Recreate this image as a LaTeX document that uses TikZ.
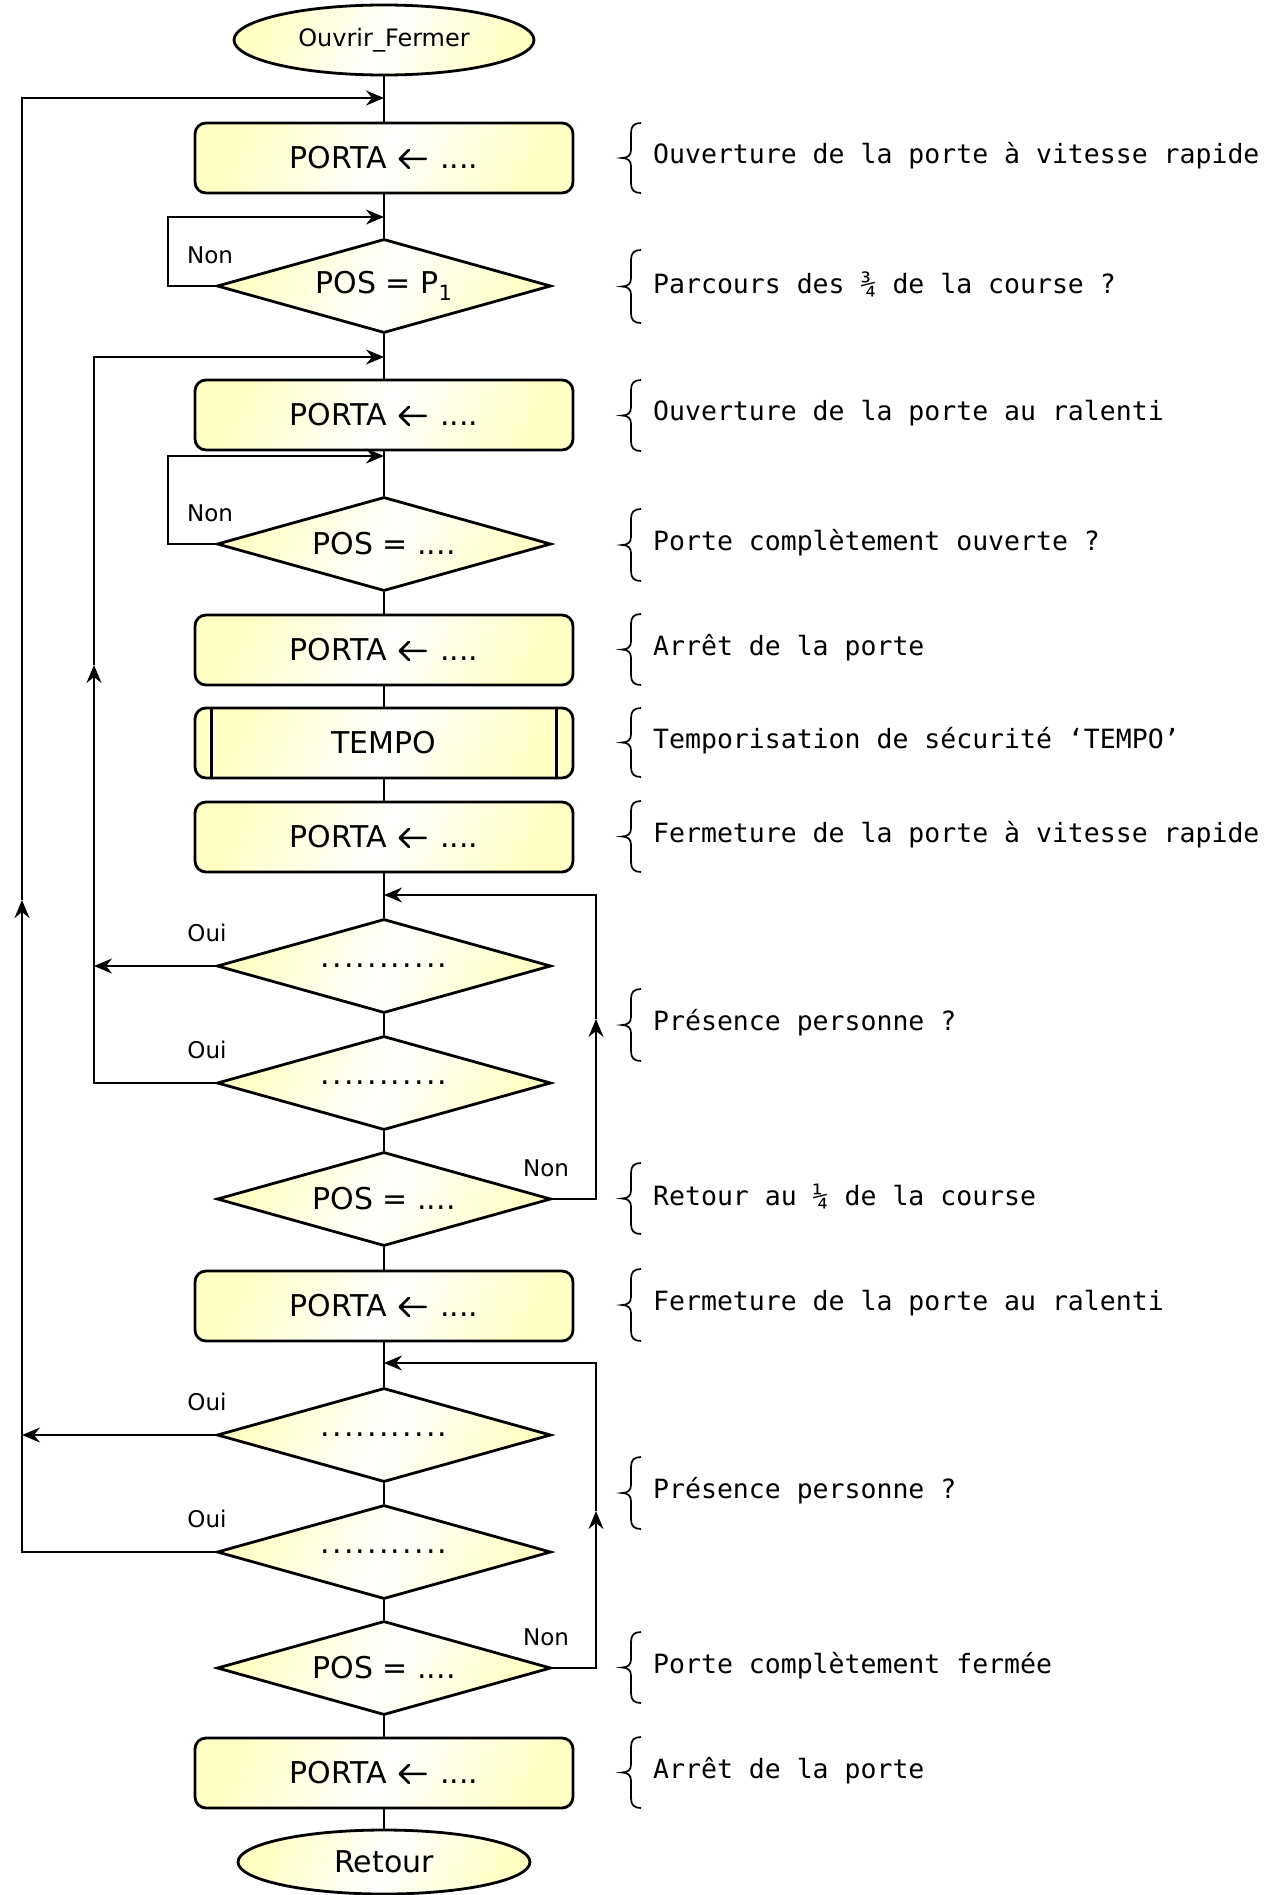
\documentclass[tikz,border=0pt]{standalone}
\usepackage{fontspec}
\setmainfont{DejaVu Sans}
\newfontfamily\monofont{DejaVu Sans Mono}
\usetikzlibrary{shapes.geometric,arrows.meta}
\definecolor{boxfill}{RGB}{255,255,196}
\newcommand\waitdots{.\kern2.2pt.\kern2.2pt.\kern2.2pt.\kern2.2pt.\kern2.2pt.\kern2.2pt.\kern2.2pt.\kern2.2pt.\kern2.2pt.\kern2.2pt.}
% open-chevron assignment arrow, built once and reused
\newsavebox\assignbox
\newcommand\assign{PORTA\hspace{12pt}\usebox\assignbox\hspace{13pt}....}

\begin{document}
\sbox\assignbox{\begin{pgfpicture}
  \pgfsetbaseline{0pt}
  \pgfsetlinewidth{2.6pt}\pgfsetroundcap\pgfsetroundjoin
  \pgfpathmoveto{\pgfpoint{27pt}{10pt}}\pgfpathlineto{\pgfpoint{1pt}{10pt}}
  \pgfpathmoveto{\pgfpoint{10pt}{19pt}}\pgfpathlineto{\pgfpoint{1pt}{10pt}}%
  \pgfpathlineto{\pgfpoint{10pt}{1pt}}
  \pgfusepath{stroke}
\end{pgfpicture}}%
\begin{tikzpicture}[x=1pt,y=-1pt,
  shadefill/.style={left color=boxfill,right color=boxfill,middle color=white,shading angle=65},
  bigtext/.style={font=\fontsize{30}{30}\selectfont},
  proc/.style={draw,line width=2.8pt,rounded corners=11pt,minimum width=378pt,
    minimum height=70pt,inner sep=0pt,shadefill,bigtext},
  dec/.style={diamond,aspect=3.55,draw,line width=2.8pt,minimum width=334pt,minimum height=94pt,
    inner sep=0pt,shadefill,bigtext},
  term/.style={ellipse,draw,line width=2.8pt,inner sep=0pt,shadefill},
  flow/.style={line width=1.9pt},
  arr/.style={flow,-{Stealth[length=18pt,width=15pt,inset=6pt]}},
  lbl/.style={font=\fontsize{23}{23}\selectfont,inner sep=0pt},
  note/.style={anchor=west,inner sep=0pt,font=\monofont\fontsize{26.5}{26.5}\selectfont},
  bracestroke/.style={line width=1.7pt}
]
\useasboundingbox (0,0) rectangle (1285,1895);

% ---- main column ----
\node[term,minimum width=300pt,minimum height=70pt,font=\fontsize{24}{24}\selectfont] (start) at (384,40) {Ouvrir\_Fermer};
\node[proc] (r1) at (384,158) {\assign};
\node[dec] (d1) at (384,286) {POS = P\textsubscript{1}};
\node[proc] (r2) at (384,415) {\assign};
\node[dec] (d2) at (384,544) {POS = ....};
\node[proc] (r3) at (384,650) {\assign};
\node[proc] (tempo) at (384,743) {TEMPO};
\node[proc] (r5) at (384,837) {\assign};
\node[dec] (d3) at (384,966) {\waitdots};
\node[dec] (d4) at (384,1083) {\waitdots};
\node[dec] (d5) at (384,1199) {POS = ....};
\node[proc] (r6) at (384,1306) {\assign};
\node[dec] (d6) at (384,1435) {\waitdots};
\node[dec] (d7) at (384,1552) {\waitdots};
\node[dec] (d8) at (384,1668) {POS = ....};
\node[proc] (r7) at (384,1773) {\assign};
\node[term,minimum width=292pt,minimum height=64pt,bigtext] (stop) at (384,1862) {Retour};

% sub-routine side bars
\draw[line width=2.4pt] ([xshift=18pt]tempo.north west) -- ([xshift=18pt]tempo.south west);
\draw[line width=2.4pt] ([xshift=-18pt]tempo.north east) -- ([xshift=-18pt]tempo.south east);

% ---- junction points on the main column ----
\coordinate (j1) at (384,98);
\coordinate (j2) at (384,217);
\coordinate (j3) at (384,357);
\coordinate (j4) at (384,456);
\coordinate (j5) at (384,895);
\coordinate (j6) at (384,1363);

% ---- straight links ----
\draw[flow] (start) -- (r1);
\draw[flow] (r1) -- (d1);
\draw[flow] (d1) -- (r2);
\draw[flow] (r2) -- (d2);
\draw[flow] (d2) -- (r3);
\draw[flow] (r3) -- (tempo);
\draw[flow] (tempo) -- (r5);
\draw[flow] (r5) -- (d3);
\draw[flow] (d3) -- (d4);
\draw[flow] (d4) -- (d5);
\draw[flow] (d5) -- (r6);
\draw[flow] (r6) -- (d6);
\draw[flow] (d6) -- (d7);
\draw[flow] (d7) -- (d8);
\draw[flow] (d8) -- (r7);
\draw[flow] (r7) -- (stop);

% ---- waiting loops (Non) ----
\coordinate (c1) at (168,217);
\coordinate (c2) at (168,456);
\draw[arr] (d1.west) -| (c1) -- (j2);
\draw[arr] (d2.west) -| (c2) -- (j4);
\node[lbl] (n1) at (210,255) {Non};
\node[lbl] (n2) at (210,513) {Non};

% ---- presence loops (Oui) ----
\coordinate (l3) at (94,966);
\coordinate (m1) at (94,665);
\draw[arr] (d3.west) -- (l3);
\draw[arr] (d4.west) -| (m1);
\draw[arr] (m1) |- (j3);
\node[lbl] (o1) at (207,933) {Oui};
\node[lbl] (o2) at (207,1050) {Oui};

\coordinate (l6) at (22,1435);
\coordinate (m2) at (22,900);
\draw[arr] (d6.west) -- (l6);
\draw[arr] (d7.west) -| (m2);
\draw[arr] (m2) |- (j1);
\node[lbl] (o3) at (207,1402) {Oui};
\node[lbl] (o4) at (207,1519) {Oui};

% ---- position loops (Non, right side) ----
\coordinate (m3) at (596,1019);
\coordinate (m4) at (596,1511);
\draw[arr] (d5.east) -| (m3);
\draw[arr] (m3) |- (j5);
\draw[arr] (d8.east) -| (m4);
\draw[arr] (m4) |- (j6);
\node[lbl] (n3) at (546,1168) {Non};
\node[lbl] (n4) at (546,1637) {Non};

% ---- comments with braces ----
\foreach \t/\b/\txt [count=\i] in {
  123/193/Ouverture de la porte à vitesse rapide,
  250/323/Parcours des ¾ de la course ?,
  380/451/Ouverture de la porte au ralenti,
  509/581/Porte complètement ouverte ?,
  614/685/Arrêt de la porte,
  708/777/Temporisation de sécurité ‘TEMPO’,
  801/872/Fermeture de la porte à vitesse rapide,
  989/1061/Présence personne ?,
  1163/1234/Retour au ¼ de la course,
  1269/1341/Fermeture de la porte au ralenti,
  1457/1529/Présence personne ?,
  1632/1703/Porte complètement fermée,
  1737/1808/Arrêt de la porte}
{
  \pgfmathsetmacro\mid{(\t+\b)/2}
  \draw[bracestroke] (641,\t) .. controls (634,\t) and (631,{\t+3}) .. (631,{\t+10})
    -- (631,{\mid-8}) .. controls (631,{\mid-3}) and (628,\mid) .. (622,\mid)
    .. controls (628,\mid) and (631,{\mid+3}) .. (631,{\mid+8})
    -- (631,{\b-10}) .. controls (631,{\b-3}) and (634,\b) .. (641,\b);
  \node[note] (note\i) at (653,{\mid-2}) {\txt};
}
\end{tikzpicture}
\end{document}
